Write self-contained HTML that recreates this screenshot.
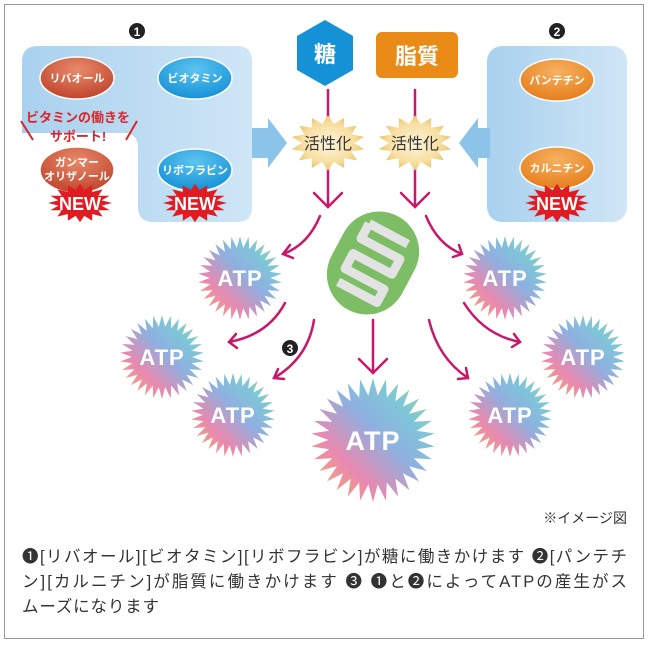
<!DOCTYPE html>
<html><head><meta charset="utf-8"><style>
html,body{margin:0;padding:0;background:#fff;}
svg{display:block;}
text{font-family:"Liberation Sans","Noto Sans CJK JP",sans-serif;}
.bt{font-family:"Liberation Sans","Noto Sans CJK JP",sans-serif;font-size:16.5px;fill:#333;}
</style></head><body>
<svg id="s" width="650" height="645" viewBox="0 0 650 645" xmlns="http://www.w3.org/2000/svg">
<defs>
<linearGradient id="pan" x1="0" x2="1" y1="0" y2="0"><stop offset="0" stop-color="#a9d1ee"/><stop offset="1" stop-color="#cfe6f6"/></linearGradient>
<radialGradient id="red" cx="0.5" cy="0.3" r="0.7"><stop offset="0" stop-color="#e88a6a"/><stop offset="1" stop-color="#c0442c"/></radialGradient>
<radialGradient id="blue" cx="0.5" cy="0.3" r="0.7"><stop offset="0" stop-color="#5cc4f0"/><stop offset="1" stop-color="#1592d6"/></radialGradient>
<radialGradient id="org" cx="0.5" cy="0.3" r="0.7"><stop offset="0" stop-color="#f6b160"/><stop offset="1" stop-color="#e67e1c"/></radialGradient>
<radialGradient id="gold" cx="0.5" cy="0.5" r="0.6"><stop offset="0" stop-color="#fff6dc"/><stop offset="0.6" stop-color="#f7dea0"/><stop offset="1" stop-color="#e2b24a"/></radialGradient>
<linearGradient id="atp" x1="0" y1="1" x2="1" y2="0">
<stop offset="0" stop-color="#f5b25a"/><stop offset="0.3" stop-color="#e889b0"/><stop offset="0.55" stop-color="#8fb0e0"/><stop offset="0.75" stop-color="#7ec6d8"/><stop offset="1" stop-color="#a9d88a"/></linearGradient>
</defs>
<rect x="4.5" y="4.5" width="639" height="634" fill="#fff" stroke="#999" stroke-width="1"/>
<path d="M38 46 H237 Q252 46 252 61 V207 Q252 222 237 222 H153 Q138 222 138 207 V148 Q138 133 123 133 H22 V62 Q22 46 38 46 Z" fill="url(#pan)"/>
<polygon points="252,128 268,128 268,118 287,143 268,168 268,158 252,158" fill="#8cc3e8"/>
<rect x="487" y="46" width="140" height="176" rx="15" fill="url(#pan)"/>
<polygon points="490,128 478,128 478,118 459,143 478,168 478,158 490,158" fill="#8cc3e8"/>
<g font-weight="bold" fill="#222">
<circle cx="137" cy="31" r="8" fill="#222"/><text x="137" y="36" font-size="12" fill="#fff" text-anchor="middle">1</text>
<circle cx="557" cy="31" r="8" fill="#222"/><text x="557" y="36" font-size="12" fill="#fff" text-anchor="middle">2</text>
<circle cx="290" cy="348" r="8" fill="#222"/><text x="290" y="353" font-size="12" fill="#fff" text-anchor="middle">3</text>
</g>
<g stroke="#fff" stroke-width="1.5" font-weight="bold" font-size="11" text-anchor="middle">
<ellipse cx="77" cy="78" rx="37" ry="21" fill="url(#red)"/><text x="77" y="82" fill="#fff" stroke="none">リバオール</text>
<ellipse cx="195" cy="78" rx="37" ry="21" fill="url(#blue)"/><text x="195" y="82" fill="#fff" stroke="none">ビオタミン</text>
<ellipse cx="77" cy="170" rx="37" ry="23" fill="url(#red)"/><text x="77" y="166" fill="#fff" stroke="none">ガンマー</text><text x="77" y="180" fill="#fff" stroke="none">オリザノール</text>
<ellipse cx="195" cy="170" rx="37" ry="21" fill="url(#blue)"/><text x="195" y="174" fill="#fff" stroke="none">リボフラビン</text>
<ellipse cx="557" cy="80" rx="37" ry="21" fill="url(#org)"/><text x="557" y="84" fill="#fff" stroke="none">パンテチン</text>
<ellipse cx="557" cy="168" rx="37" ry="21" fill="url(#org)"/><text x="557" y="172" fill="#fff" stroke="none">カルニチン</text>
</g>
<g font-weight="bold" fill="#d8262c" font-size="13" text-anchor="middle">
<text x="78" y="122">ビタミンの働きを</text><text x="78" y="141">サポート!</text></g>
<line x1="21" y1="121" x2="33" y2="140" stroke="#d8262c" stroke-width="2"/>
<line x1="137" y1="121" x2="126" y2="140" stroke="#d8262c" stroke-width="2"/>
<g id="news"></g>
<polygon points="325,20 353,36 353,70 325,86 297,70 297,36" fill="#1592d6"/>
<text x="325" y="62" font-size="22" font-weight="bold" fill="#fff" text-anchor="middle">糖</text>
<rect x="376" y="32" width="82" height="46" rx="6" fill="#e98b16"/>
<text x="417" y="64" font-size="22" font-weight="bold" fill="#fff" text-anchor="middle">脂質</text>
<g stroke="#c8186a" stroke-width="2.5" fill="none" stroke-linecap="round">
<line x1="328" y1="90" x2="328" y2="120"/><line x1="328" y1="166" x2="328" y2="207"/><polyline points="314,193 328,207 342,193"/>
<line x1="415" y1="90" x2="415" y2="120"/><line x1="415" y1="166" x2="415" y2="207"/><polyline points="401,193 415,207 429,193"/>
<line x1="373" y1="320" x2="373" y2="373"/><polyline points="359,359 373,373 387,359"/>
<path d="M320 216 Q308 245 283 254"/><polyline points="290,245 283,254 293,258"/>
<path d="M285 303 Q268 335 229 342"/><polyline points="236,334 229,342 237,348"/>
<path d="M314 320 Q308 358 274 378"/><polyline points="278,369 274,378 284,379"/>
<path d="M426 216 Q438 245 462 254"/><polyline points="453,257 462,254 459,245"/>
<path d="M464 303 Q484 335 520 342"/><polyline points="512,347 520,342 514,334"/>
<path d="M429 320 Q438 358 468 378"/><polyline points="458,379 468,378 466,368"/>
</g>
<g id="stars"></g>
<g transform="translate(373,263) rotate(28)">
<rect x="-40" y="-53" width="80" height="106" rx="40" fill="#7dbd66"/>
<path d="M-22 -33 H22 M-22 -33 V-16 H22 V1 H-22 V18 H22 V33 H-22" fill="none" stroke="#e3e3e3" stroke-width="9" stroke-linejoin="round"/>
</g>
<text x="627" y="523" font-size="14" fill="#333" text-anchor="end">※イメージ図</text>
<text class="bt" x="22" y="562" textLength="605" lengthAdjust="spacing">❶[リバオール][ビオタミン][リボフラビン]が糖に働きかけます ❷[パンテチ</text>
<text class="bt" x="22" y="587" textLength="605" lengthAdjust="spacing">ン][カルニチン]が脂質に働きかけます ❸ ❶と❷によってATPの産生がス</text>
<text class="bt" x="22" y="612" textLength="137" lengthAdjust="spacing">ムーズになります</text>
</svg>
<script>
var NS="http://www.w3.org/2000/svg";
function star(cx,cy,r1,r2,n,sy){sy=sy||1;var p=[];for(var i=0;i<2*n;i++){var a=Math.PI*i/n-Math.PI/2;var r=i%2?r2:r1;p.push((cx+r*Math.cos(a)).toFixed(1)+","+(cy+sy*r*Math.sin(a)).toFixed(1));}return p.join(" ");}
function add(parent,tag,attrs,txt){var e=document.createElementNS(NS,tag);for(var k in attrs)e.setAttribute(k,attrs[k]);if(txt)e.textContent=txt;parent.appendChild(e);return e;}
var st=document.getElementById("stars"),nw=document.getElementById("news");
[[328,143],[415,143]].forEach(function(c){add(st,"polygon",{points:star(c[0],c[1],37,26,14,0.75),fill:"url(#gold)"});add(st,"text",{x:c[0],y:c[1]+6,"font-size":"16","text-anchor":"middle",fill:"#333"},"活性化");});
[[240,278,42],[162,357,42],[233,415,42],[373,440,62],[505,278,42],[583,357,42],[510,415,42]].forEach(function(c){
 add(st,"polygon",{points:star(c[0],c[1],c[2],c[2]*0.72,30),fill:"url(#atp)"});
 add(st,"text",{x:c[0],y:c[1]+(c[2]>50?10:8),"font-size":c[2]>50?"27":"22","font-weight":"bold","text-anchor":"middle",fill:"#fff","letter-spacing":"1"},"ATP");});
[[80,203],[195,203],[557,203]].forEach(function(c){
 add(nw,"polygon",{points:star(c[0],c[1],32,22,16,0.6),fill:"#e01b22"});
 add(nw,"text",{x:c[0],y:c[1]+7,"font-size":"18","font-weight":"bold","text-anchor":"middle",fill:"#fff"},"NEW");});
</script>
</body></html>
